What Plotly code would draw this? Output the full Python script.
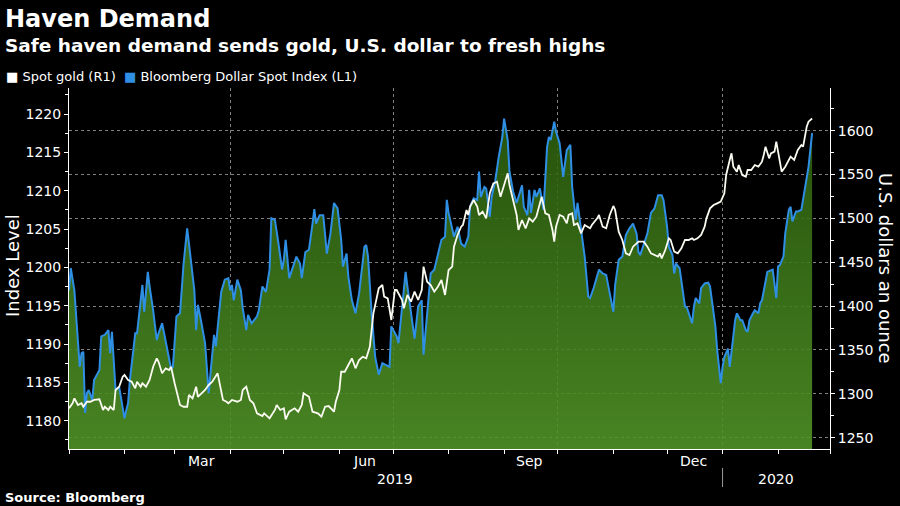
import plotly.graph_objects as go

# ---------------- data ----------------
dxy_dates = [
    "2019-01-01", "2019-01-02", "2019-01-04", "2019-01-07", "2019-01-08", "2019-01-09", "2019-01-10", "2019-01-11",
    "2019-01-12", "2019-01-14", "2019-01-15", "2019-01-17", "2019-01-18", "2019-01-19", "2019-01-21", "2019-01-23",
    "2019-01-24", "2019-01-25", "2019-01-26", "2019-01-27", "2019-01-29", "2019-01-31", "2019-02-01", "2019-02-02",
    "2019-02-03", "2019-02-04", "2019-02-07", "2019-02-08", "2019-02-09", "2019-02-11", "2019-02-12", "2019-02-14",
    "2019-02-15", "2019-02-17", "2019-02-19", "2019-02-20", "2019-02-22", "2019-02-24", "2019-02-27", "2019-02-28",
    "2019-03-02", "2019-03-04", "2019-03-06", "2019-03-08", "2019-03-10", "2019-03-12", "2019-03-13", "2019-03-14",
    "2019-03-16", "2019-03-18", "2019-03-20", "2019-03-22", "2019-03-23", "2019-03-24", "2019-03-25", "2019-03-27",
    "2019-03-29", "2019-03-31", "2019-04-01", "2019-04-02", "2019-04-03", "2019-04-05", "2019-04-07", "2019-04-08",
    "2019-04-10", "2019-04-11", "2019-04-13", "2019-04-16", "2019-04-17", "2019-04-19", "2019-04-21", "2019-04-23",
    "2019-04-24", "2019-04-26", "2019-04-28", "2019-04-30", "2019-05-01", "2019-05-02", "2019-05-04", "2019-05-06",
    "2019-05-08", "2019-05-10", "2019-05-11", "2019-05-13", "2019-05-15", "2019-05-17", "2019-05-18", "2019-05-19",
    "2019-05-21", "2019-05-23", "2019-05-25", "2019-05-27", "2019-05-29", "2019-05-31", "2019-06-02", "2019-06-03",
    "2019-06-05", "2019-06-06", "2019-06-08", "2019-06-10", "2019-06-12", "2019-06-15", "2019-06-16", "2019-06-17",
    "2019-06-19", "2019-06-21", "2019-06-23", "2019-06-25", "2019-06-27", "2019-06-29", "2019-06-30", "2019-07-03",
    "2019-07-04", "2019-07-06", "2019-07-08", "2019-07-09", "2019-07-11", "2019-07-13", "2019-07-15", "2019-07-17",
    "2019-07-18", "2019-07-20", "2019-07-22", "2019-07-24", "2019-07-26", "2019-07-28", "2019-07-30", "2019-07-31",
    "2019-08-01", "2019-08-04", "2019-08-06", "2019-08-08", "2019-08-10", "2019-08-12", "2019-08-13", "2019-08-15",
    "2019-08-17", "2019-08-18", "2019-08-19", "2019-08-21", "2019-08-22", "2019-08-24", "2019-08-25", "2019-08-27",
    "2019-08-29", "2019-08-31", "2019-09-01", "2019-09-03", "2019-09-04", "2019-09-06", "2019-09-08", "2019-09-09",
    "2019-09-11", "2019-09-12", "2019-09-14", "2019-09-15", "2019-09-16", "2019-09-18", "2019-09-19", "2019-09-21",
    "2019-09-23", "2019-09-25", "2019-09-26", "2019-09-27", "2019-09-29", "2019-09-30", "2019-10-02", "2019-10-04",
    "2019-10-06", "2019-10-08", "2019-10-09", "2019-10-11", "2019-10-12", "2019-10-14", "2019-10-16", "2019-10-18",
    "2019-10-19", "2019-10-21", "2019-10-24", "2019-10-26", "2019-10-28", "2019-10-30", "2019-11-01", "2019-11-02",
    "2019-11-04", "2019-11-06", "2019-11-08", "2019-11-10", "2019-11-12", "2019-11-14", "2019-11-15", "2019-11-16",
    "2019-11-18", "2019-11-20", "2019-11-22", "2019-11-24", "2019-11-26", "2019-11-28", "2019-11-29", "2019-12-01",
    "2019-12-02", "2019-12-04", "2019-12-05", "2019-12-06", "2019-12-08", "2019-12-09", "2019-12-11", "2019-12-12",
    "2019-12-13", "2019-12-15", "2019-12-16", "2019-12-17", "2019-12-19", "2019-12-20", "2019-12-22", "2019-12-24",
    "2019-12-25", "2019-12-26", "2019-12-28", "2019-12-29", "2019-12-31", "2020-01-01", "2020-01-02", "2020-01-04",
    "2020-01-05", "2020-01-07", "2020-01-08", "2020-01-09", "2020-01-11", "2020-01-12", "2020-01-14", "2020-01-15",
    "2020-01-16", "2020-01-18", "2020-01-19", "2020-01-21", "2020-01-22", "2020-01-23", "2020-01-25", "2020-01-26",
    "2020-01-28", "2020-01-29", "2020-01-31", "2020-02-01", "2020-02-02", "2020-02-04", "2020-02-05", "2020-02-07",
    "2020-02-08", "2020-02-09", "2020-02-11", "2020-02-12", "2020-02-14", "2020-02-15", "2020-02-17", "2020-02-18",
    "2020-02-20",
]
dxy_values = [
    1197.0, 1199.9, 1197.0, 1187.0, 1188.8, 1189.0, 1181.0, 1183.6,
    1184.0, 1182.7, 1185.3, 1186.2, 1186.6, 1191.0, 1191.2, 1191.8,
    1188.8, 1191.6, 1187.9, 1184.0, 1184.4, 1181.4, 1180.3, 1181.4,
    1182.3, 1185.3, 1191.4, 1191.4, 1193.6, 1197.7, 1194.2, 1199.4,
    1197.5, 1194.4, 1190.5, 1191.4, 1192.7, 1190.5, 1186.8, 1187.0,
    1193.6, 1194.0, 1200.5, 1205.1, 1201.0, 1197.0, 1191.8, 1195.1,
    1192.7, 1190.1, 1183.6, 1188.8, 1191.2, 1189.7, 1192.3, 1196.8,
    1198.4, 1198.6, 1197.0, 1197.7, 1195.7, 1198.4, 1197.0, 1194.7,
    1191.8, 1193.8, 1192.7, 1193.6, 1194.4, 1197.5, 1196.8, 1199.7,
    1206.4, 1206.2, 1203.1, 1199.7, 1201.0, 1203.6, 1198.6, 1200.1,
    1201.4, 1200.5, 1198.6, 1202.0, 1202.3, 1205.7, 1207.6, 1205.7,
    1206.8, 1206.8, 1201.8, 1204.4, 1208.4, 1207.7, 1203.6, 1200.1,
    1201.8, 1198.8, 1195.7, 1194.0, 1196.6, 1202.7, 1202.9, 1201.4,
    1194.0, 1188.3, 1186.0, 1187.5, 1187.3, 1187.0, 1192.3, 1191.0,
    1190.1, 1194.9, 1199.4, 1197.5, 1194.0, 1190.7, 1194.9, 1195.7,
    1188.6, 1193.6, 1199.2, 1199.7, 1201.8, 1203.6, 1204.0, 1208.8,
    1207.1, 1204.0, 1205.3, 1203.1, 1202.7, 1204.0, 1207.9, 1209.0,
    1208.8, 1212.5, 1209.2, 1210.5, 1210.3, 1206.6, 1209.2, 1211.2,
    1214.4, 1217.0, 1219.4, 1216.6, 1212.5, 1209.9, 1208.4, 1209.2,
    1210.7, 1207.9, 1206.8, 1210.1, 1207.1, 1210.1, 1209.2, 1210.3,
    1207.5, 1215.7, 1217.0, 1216.6, 1219.0, 1217.7, 1216.2, 1211.8,
    1215.3, 1216.0, 1210.5, 1206.2, 1208.4, 1204.9, 1201.4, 1196.2,
    1196.0, 1197.3, 1199.7, 1199.2, 1199.0, 1196.6, 1194.2, 1197.7,
    1201.0, 1201.4, 1204.2, 1205.1, 1205.7, 1204.4, 1202.0, 1201.6,
    1203.1, 1204.4, 1207.1, 1207.7, 1209.4, 1209.4, 1208.8, 1205.3,
    1202.7, 1201.6, 1199.2, 1200.5, 1199.9, 1198.4, 1194.9, 1194.8,
    1194.0, 1192.7, 1194.9, 1196.0, 1195.3, 1197.3, 1197.9, 1198.0,
    1197.5, 1195.7, 1192.3, 1189.2, 1184.9, 1187.0, 1188.3, 1189.4,
    1187.0, 1191.0, 1193.1, 1194.0, 1193.1, 1193.1, 1191.8, 1191.6,
    1193.1, 1194.0, 1194.4, 1194.0, 1195.3, 1195.7, 1197.9, 1199.4,
    1199.6, 1199.7, 1196.0, 1200.1, 1200.3, 1201.4, 1204.4, 1207.5,
    1207.9, 1206.0, 1207.3, 1207.3, 1207.5, 1208.8, 1211.4, 1213.1,
    1217.5,
]

gold_dates = [
    "2019-01-01", "2019-01-03", "2019-01-04", "2019-01-06", "2019-01-08", "2019-01-09", "2019-01-11", "2019-01-13",
    "2019-01-15", "2019-01-18", "2019-01-20", "2019-01-21", "2019-01-23", "2019-01-24", "2019-01-26", "2019-01-27",
    "2019-01-29", "2019-01-31", "2019-02-01", "2019-02-03", "2019-02-05", "2019-02-07", "2019-02-08", "2019-02-10",
    "2019-02-11", "2019-02-13", "2019-02-15", "2019-02-17", "2019-02-19", "2019-02-20", "2019-02-22", "2019-02-24",
    "2019-02-26", "2019-02-27", "2019-03-01", "2019-03-03", "2019-03-04", "2019-03-06", "2019-03-08", "2019-03-09",
    "2019-03-11", "2019-03-13", "2019-03-14", "2019-03-16", "2019-03-18", "2019-03-20", "2019-03-22", "2019-03-25",
    "2019-03-26", "2019-03-28", "2019-03-30", "2019-03-31", "2019-04-02", "2019-04-05", "2019-04-07", "2019-04-08",
    "2019-04-10", "2019-04-12", "2019-04-14", "2019-04-16", "2019-04-19", "2019-04-20", "2019-04-23", "2019-04-26",
    "2019-04-27", "2019-04-29", "2019-05-01", "2019-05-02", "2019-05-04", "2019-05-07", "2019-05-09", "2019-05-11",
    "2019-05-12", "2019-05-15", "2019-05-17", "2019-05-20", "2019-05-22", "2019-05-24", "2019-05-26", "2019-05-29",
    "2019-05-30", "2019-06-01", "2019-06-02", "2019-06-04", "2019-06-06", "2019-06-08", "2019-06-10", "2019-06-12",
    "2019-06-14", "2019-06-16", "2019-06-18", "2019-06-20", "2019-06-23", "2019-06-25", "2019-06-26", "2019-06-28",
    "2019-06-30", "2019-07-02", "2019-07-03", "2019-07-06", "2019-07-07", "2019-07-09", "2019-07-11", "2019-07-13",
    "2019-07-15", "2019-07-17", "2019-07-18", "2019-07-20", "2019-07-22", "2019-07-24", "2019-07-26", "2019-07-28",
    "2019-07-30", "2019-08-01", "2019-08-03", "2019-08-04", "2019-08-06", "2019-08-08", "2019-08-09", "2019-08-11",
    "2019-08-12", "2019-08-13", "2019-08-15", "2019-08-17", "2019-08-18", "2019-08-20", "2019-08-22", "2019-08-24",
    "2019-08-26", "2019-08-28", "2019-08-30", "2019-09-01", "2019-09-03", "2019-09-04", "2019-09-06", "2019-09-08",
    "2019-09-09", "2019-09-11", "2019-09-13", "2019-09-15", "2019-09-17", "2019-09-19", "2019-09-21", "2019-09-22",
    "2019-09-24", "2019-09-26", "2019-09-28", "2019-09-29", "2019-09-30", "2019-10-02", "2019-10-04", "2019-10-06",
    "2019-10-07", "2019-10-09", "2019-10-10", "2019-10-12", "2019-10-14", "2019-10-16", "2019-10-19", "2019-10-20",
    "2019-10-23", "2019-10-24", "2019-10-26", "2019-10-28", "2019-10-30", "2019-11-01", "2019-11-02", "2019-11-04",
    "2019-11-06", "2019-11-08", "2019-11-10", "2019-11-12", "2019-11-14", "2019-11-15", "2019-11-18", "2019-11-20",
    "2019-11-22", "2019-11-24", "2019-11-26", "2019-11-27", "2019-11-28", "2019-11-30", "2019-12-02", "2019-12-03",
    "2019-12-05", "2019-12-07", "2019-12-09", "2019-12-11", "2019-12-13", "2019-12-15", "2019-12-16", "2019-12-18",
    "2019-12-20", "2019-12-22", "2019-12-23", "2019-12-25", "2019-12-27", "2019-12-29", "2019-12-31", "2020-01-02",
    "2020-01-03", "2020-01-05", "2020-01-06", "2020-01-07", "2020-01-09", "2020-01-10", "2020-01-12", "2020-01-14",
    "2020-01-15", "2020-01-17", "2020-01-19", "2020-01-21", "2020-01-23", "2020-01-24", "2020-01-25", "2020-01-27",
    "2020-01-28", "2020-01-30", "2020-01-31", "2020-02-01", "2020-02-03", "2020-02-05", "2020-02-07", "2020-02-08",
    "2020-02-10", "2020-02-12", "2020-02-14", "2020-02-15", "2020-02-17", "2020-02-18", "2020-02-20",
]
gold_values = [
    1283.5, 1289.2, 1294.9, 1287.3, 1289.2, 1285.3, 1291.0, 1291.0,
    1293.0, 1293.8, 1281.6, 1285.3, 1281.6, 1285.3, 1281.6, 1304.4,
    1308.1, 1319.5, 1321.5, 1315.8, 1313.8, 1306.3, 1313.8, 1308.1,
    1312.0, 1308.1, 1315.8, 1330.9, 1340.5, 1336.6, 1323.4, 1329.1,
    1327.2, 1330.9, 1312.0, 1293.0, 1287.3, 1285.3, 1285.3, 1298.7,
    1294.9, 1308.1, 1296.7, 1300.6, 1304.4, 1310.1, 1313.8, 1323.4,
    1312.0, 1293.0, 1291.0, 1289.2, 1293.0, 1291.0, 1293.0, 1304.4,
    1308.1, 1293.0, 1289.2, 1277.8, 1274.7, 1277.8, 1272.1, 1281.6,
    1287.3, 1281.6, 1283.5, 1271.0, 1279.6, 1283.5, 1279.6, 1287.3,
    1300.6, 1296.7, 1279.6, 1277.8, 1273.9, 1285.3, 1286.1, 1279.6,
    1291.0, 1304.4, 1325.2, 1325.2, 1332.9, 1340.5, 1329.1, 1338.6,
    1342.3, 1340.5, 1353.7, 1391.8, 1420.3, 1424.1, 1410.8, 1408.9,
    1384.2, 1418.4, 1418.4, 1407.0, 1397.5, 1412.7, 1405.1, 1416.5,
    1407.0, 1418.4, 1445.0, 1427.9, 1424.1, 1416.5, 1422.2, 1429.8,
    1412.7, 1441.2, 1445.0, 1467.8, 1481.1, 1490.6, 1492.5, 1509.6,
    1503.9, 1513.4, 1521.0, 1513.4, 1503.9, 1507.7, 1500.1, 1528.6,
    1540.0, 1541.9, 1524.8, 1538.1, 1551.4, 1538.1, 1521.0, 1503.9,
    1486.8, 1498.2, 1488.7, 1500.1, 1496.3, 1502.0, 1517.2, 1524.8,
    1505.8, 1503.9, 1486.8, 1473.5, 1490.6, 1503.9, 1502.0, 1494.4,
    1503.9, 1505.8, 1492.5, 1494.4, 1483.0, 1492.5, 1488.7, 1492.5,
    1500.1, 1503.9, 1490.6, 1488.7, 1503.9, 1514.2, 1509.6, 1484.9,
    1475.4, 1460.2, 1458.3, 1467.8, 1471.6, 1473.5, 1473.5, 1467.8,
    1460.2, 1458.3, 1456.4, 1460.2, 1454.5, 1464.0, 1477.3, 1475.4,
    1462.1, 1460.2, 1465.9, 1475.4, 1475.4, 1477.3, 1475.4, 1477.3,
    1481.1, 1490.6, 1500.1, 1511.5, 1515.3, 1517.2, 1519.1, 1528.6,
    1549.5, 1566.6, 1574.2, 1559.0, 1553.3, 1560.9, 1549.5, 1547.6,
    1555.2, 1555.2, 1560.9, 1559.0, 1564.7, 1572.3, 1581.8, 1568.5,
    1574.2, 1576.1, 1587.5, 1576.1, 1553.3, 1559.0, 1566.6, 1570.4,
    1566.6, 1578.0, 1583.7, 1581.8, 1604.6, 1610.3, 1613.9,
]

month_labels = ["Mar", "Jun", "Sep", "Dec"]
month_label_dates = ["2019-03-16", "2019-06-15", "2019-09-15", "2019-12-16"]
year_labels = ["2019", "2020"]
year_label_dates = ["2019-07-02", "2020-01-31"]
quarter_starts = ["2019-04-01", "2019-07-01", "2019-10-01", "2020-01-01"]

# ---------------- layout geometry helpers ----------------
W, H = 900, 506
L, R, T, B = 69, 70, 88, 57
PW, PH = W - L - R, H - T - B


def px(x):
    return (x - L) / PW


def py(y):
    return (H - B - y) / PH


FONT = "DejaVu Sans"
BLUE = "#2f8fe4"
GRID = "#808080"

fig = go.Figure()

fig.add_trace(go.Scatter(
    x=dxy_dates, y=dxy_values, mode="lines", yaxis="y",
    name="Bloomberg Dollar Spot Index (L1)",
    line=dict(color=BLUE, width=2),
    fill="tozeroy",
    fillgradient=dict(
        type="vertical",
        colorscale=[[0, "rgba(82,150,40,0.88)"], [1, "rgba(42,92,12,0.88)"]],
        start=1176.3, stop=1221,
    ),
    hoverinfo="skip",
))

fig.add_trace(go.Scatter(
    x=gold_dates, y=gold_values, mode="lines", yaxis="y2",
    name="Spot gold (R1)",
    line=dict(color="#fbfbf2", width=1.8),
    hoverinfo="skip",
))

annotations = [
    dict(text="<b>Haven Demand</b>", x=px(3), y=py(19), xanchor="left", yanchor="middle",
         font=dict(size=24, family=FONT, color="white")),
    dict(text="<b>Safe haven demand sends gold, U.S. dollar to fresh highs</b>", x=px(3), y=py(45.5),
         xanchor="left", yanchor="middle", font=dict(size=18.5, family=FONT, color="white")),
    dict(text="<span style='color:#ffffff'>■</span> Spot gold (R1)", x=px(4), y=py(76),
         xanchor="left", yanchor="middle", font=dict(size=13, family=FONT, color="white")),
    dict(text=f"<span style='color:{BLUE}'>■</span> Bloomberg Dollar Spot Index (L1)", x=px(122), y=py(76),
         xanchor="left", yanchor="middle", font=dict(size=13, family=FONT, color="white")),
    dict(text="<b>Source: Bloomberg</b>", x=px(3), y=py(497.5), xanchor="left", yanchor="middle",
         font=dict(size=13, family=FONT, color="white")),
    dict(text="Index Level", x=px(12), y=py(266), textangle=-90, xanchor="center", yanchor="middle",
         font=dict(size=18, family=FONT, color="white")),
    dict(text="U.S. dollars an ounce", x=px(886), y=py(268), textangle=90, xanchor="center", yanchor="middle",
         font=dict(size=18, family=FONT, color="white")),
]
for lab, d in zip(month_labels, month_label_dates):
    annotations.append(dict(text=lab, x=d, xref="x", y=py(460.5), yref="paper", xanchor="center",
                            yanchor="middle", font=dict(size=14, family=FONT, color="white")))
for lab, d in zip(year_labels, year_label_dates):
    annotations.append(dict(text=lab, x=d, xref="x", y=py(479), yref="paper", xanchor="center",
                            yanchor="middle", font=dict(size=14, family=FONT, color="white")))
for a in annotations:
    a.setdefault("xref", "paper")
    a.setdefault("yref", "paper")
    a["showarrow"] = False

fig.update_layout(
    width=W, height=H,
    paper_bgcolor="black", plot_bgcolor="black",
    margin=dict(l=L, r=R, t=T, b=B),
    showlegend=False,
    font=dict(family=FONT, color="white", size=14),
    annotations=annotations,
    shapes=[dict(type="line", xref="x", yref="paper", x0=quarter_starts[-1], x1=quarter_starts[-1],
                 y0=py(468), y1=py(487), line=dict(color="#9a9a9a", width=1))],
    xaxis=dict(
        type="date", range=["2019-01-01", "2020-03-01"],
        tickmode="array", tickvals=quarter_starts, showticklabels=False,
        ticks="outside", ticklen=4, tickcolor="white", tickwidth=1,
        showgrid=True, gridcolor=GRID, griddash="dot", gridwidth=1,
        showline=True, linecolor="white", linewidth=1, zeroline=False,
        minor=dict(dtick="M1", tick0="2019-01-01", ticks="outside", ticklen=4,
                   tickcolor="white", showgrid=False),
    ),
    yaxis=dict(
        range=[1176.3, 1223.4], tickmode="linear", tick0=1180, dtick=5,
        ticks="outside", ticklen=4, tickcolor="white", tickwidth=1,
        showline=True, linecolor="white", linewidth=1,
        showgrid=False, zeroline=False,
        tickfont=dict(size=14, family=FONT, color="white"),
        minor=dict(dtick=2.5, tick0=1180, ticks="outside", ticklen=3, tickcolor="white", showgrid=False),
    ),
    yaxis2=dict(
        overlaying="y", side="right",
        range=[1237.1, 1648.7], tickmode="linear", tick0=1250, dtick=50,
        ticks="outside", ticklen=4, tickcolor="white", tickwidth=1,
        showline=True, linecolor="white", linewidth=1,
        showgrid=True, gridcolor=GRID, griddash="dot", gridwidth=1, zeroline=False,
        tickfont=dict(size=14, family=FONT, color="white"),
        minor=dict(dtick=25, tick0=1250, ticks="outside", ticklen=3, tickcolor="white", showgrid=False),
    ),
)

fig.write_html(
    "out.html",
    config={"displayModeBar": False},
    post_script="document.body.style.margin='0';document.body.style.background='black';",
)
